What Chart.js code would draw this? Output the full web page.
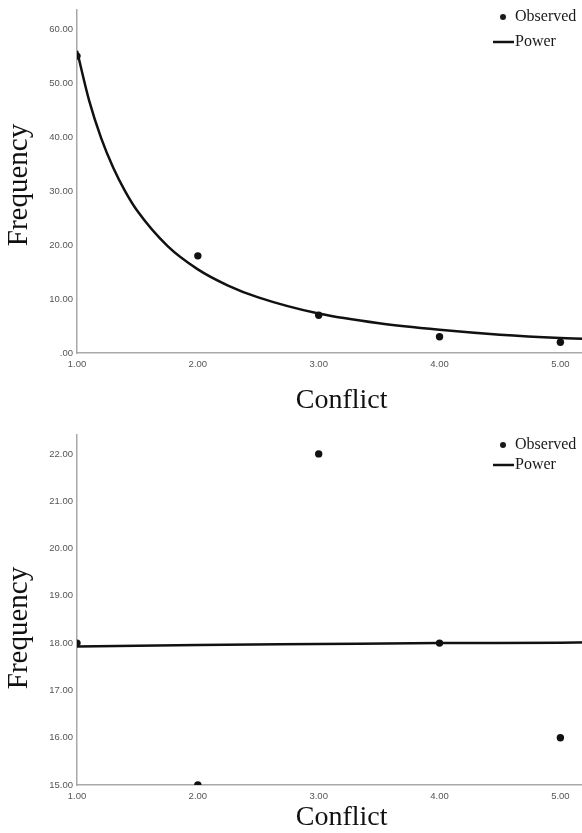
<!DOCTYPE html>
<html>
<head>
<meta charset="utf-8">
<script src="https://cdn.jsdelivr.net/npm/chart.js@4/dist/chart.umd.min.js"></script>
<style>
  html, body { margin: 0; padding: 0; background: #fff; width: 582px; height: 833px; overflow: hidden; }
  #wrap { position: relative; width: 582px; height: 833px; overflow: hidden; }
  canvas { position: absolute; left: 0; }
  #c1 { top: 0; }
  #c2 { top: 418px; }
</style>
</head>
<body>
<div id="wrap">
  <canvas id="c1" width="610" height="418"></canvas>
  <canvas id="c2" width="610" height="415"></canvas>
</div>
<script>
// ---- data ----
const xTitle = 'Conflict';
const yTitle = 'Frequency';
const seriesNames = ['Observed', 'Power'];

const observedX = [1, 2, 3, 4, 5];
const xTickLabels = ['1.00', '2.00', '3.00', '4.00', '5.00'];

// top chart
const topObserved = [55, 18, 7, 3, 2];
const topPowerX = [1, 1.1, 1.2, 1.3, 1.4, 1.5, 1.75, 2, 2.25, 2.5, 3, 3.5, 4, 4.5, 5, 5.4];
const topPowerY = [56, 46.8, 39.8, 34.3, 29.9, 26.3, 19.8, 15.5, 12.5, 10.3, 7.3, 5.5, 4.3, 3.4, 2.8, 2.5];
const topYTickLabels = ['.00', '10.00', '20.00', '30.00', '40.00', '50.00', '60.00'];

// bottom chart
const bottomObserved = [18, 15, 22, 18, 16];
const bottomPowerX = [1, 2, 3, 4, 5, 5.4];
const bottomPowerY = [17.93, 17.96, 17.98, 18.0, 18.01, 18.02];
const bottomYTickLabels = ['15.00', '16.00', '17.00', '18.00', '19.00', '20.00', '21.00', '22.00'];

// ---- plugins: legend box and rotated y title at the reference positions ----
const srcLegend = {
  id: 'srcLegend',
  afterDraw(chart, args, o) {
    const ctx = chart.ctx;
    const ds = chart.data.datasets;
    ctx.save();
    ctx.font = '16px "Liberation Serif", "Times New Roman", serif';
    ctx.textBaseline = 'middle';
    ctx.textAlign = 'left';
    ctx.fillStyle = '#1a1a1a';
    ctx.beginPath();
    ctx.arc(o.dotX, o.y1, 3, 0, Math.PI * 2);
    ctx.fill();
    ctx.fillText(ds[0].label, o.textX, o.y1);
    ctx.strokeStyle = '#111';
    ctx.lineWidth = 2.5;
    ctx.beginPath();
    ctx.moveTo(o.lineX0, o.y2);
    ctx.lineTo(o.lineX1, o.y2);
    ctx.stroke();
    ctx.fillText(ds[1].label, o.textX, o.y2);
    ctx.restore();
  }
};
const yTitlePlugin = {
  id: 'yTitlePlugin',
  afterDraw(chart, args, o) {
    const ctx = chart.ctx;
    ctx.save();
    ctx.translate(o.x, o.y);
    ctx.rotate(-Math.PI / 2);
    ctx.font = '29px "Liberation Serif", "Times New Roman", serif';
    ctx.textAlign = 'center';
    ctx.textBaseline = 'middle';
    ctx.fillStyle = '#111';
    ctx.fillText(o.text, 0, 0);
    ctx.restore();
  }
};

function makeChart(id, obs, px, py, yMin, yMax, yStep, yLabels, padTop, xH, titlePadBottom, legendPos, yTitleY) {
  const ctx = document.getElementById(id).getContext('2d');
  return new Chart(ctx, {
    type: 'scatter',
    data: {
      datasets: [
        {
          label: seriesNames[0],
          data: observedX.map((x, i) => ({ x: x, y: obs[i] })),
          pointRadius: 3.7,
          pointHoverRadius: 3.7,
          pointBackgroundColor: '#111',
          pointBorderWidth: 0,
          showLine: false,
          clip: 0,
          order: 1
        },
        {
          label: seriesNames[1],
          data: px.map((x, i) => ({ x: x, y: py[i] })),
          showLine: true,
          borderColor: '#111',
          borderWidth: 2.5,
          pointRadius: 0,
          cubicInterpolationMode: 'monotone',
          clip: 0,
          order: 0
        }
      ]
    },
    options: {
      responsive: false,
      animation: false,
      devicePixelRatio: 1,
      layout: { padding: { top: padTop, left: 0, right: 1, bottom: 0 } },
      plugins: {
        legend: { display: false },
        tooltip: { enabled: false },
        srcLegend: legendPos,
        yTitlePlugin: { text: yTitle, x: 19.5, y: yTitleY }
      },
      scales: {
        x: {
          type: 'linear',
          min: 1,
          max: 5.38,
          grid: { display: false, drawTicks: false, tickLength: 0 },
          border: { display: true, color: '#a8a8a8', width: 1.5 },
          ticks: {
            stepSize: 1,
            includeBounds: false,
            padding: 6,
            color: '#555',
            font: { family: '"Liberation Sans", Arial, sans-serif', size: 9.5 },
            maxRotation: 0,
            callback: (v) => { const i = observedX.indexOf(v); return i >= 0 ? xTickLabels[i] : ''; }
          },
          title: {
            display: true,
            text: xTitle,
            color: '#111',
            font: { family: '"Liberation Serif", "Times New Roman", serif', size: 28, lineHeight: 0.8 },
            padding: { top: 0, bottom: titlePadBottom }
          },
          afterFit: (s) => { s.height = xH; }
        },
        y: {
          type: 'linear',
          min: yMin,
          max: yMax,
          grid: { display: false, drawTicks: false, tickLength: 0 },
          border: { display: true, color: '#a8a8a8', width: 1.5 },
          ticks: {
            stepSize: yStep,
            includeBounds: false,
            padding: 4,
            color: '#555',
            font: { family: '"Liberation Sans", Arial, sans-serif', size: 9.5 },
            callback: (v) => {
              const i = Math.round((v - yMin) / yStep);
              return yLabels[i] !== undefined ? yLabels[i] : '';
            }
          },
          title: { display: false },
          afterFit: (s) => { s.width = 77; }
        }
      }
    },
    plugins: [srcLegend, yTitlePlugin]
  });
}

makeChart('c1', topObserved, topPowerX, topPowerY, 0, 63.6, 10, topYTickLabels,
  7, 65, 6,
  { dotX: 503, textX: 515, lineX0: 493, lineX1: 514, y1: 17, y2: 42 }, 185);

makeChart('c2', bottomObserved, bottomPowerX, bottomPowerY, 15, 22.4, 1, bottomYTickLabels,
  17, 48, 4,
  { dotX: 503, textX: 515, lineX0: 493, lineX1: 514, y1: 27, y2: 47 }, 210);
</script>
</body>
</html>
